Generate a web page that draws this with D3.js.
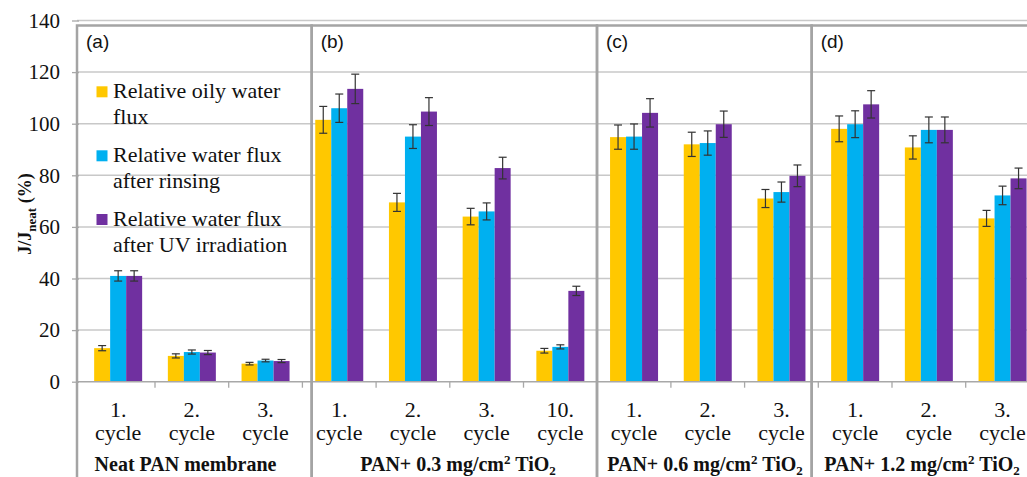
<!DOCTYPE html>
<html>
<head>
<meta charset="utf-8">
<script src="https://cdn.jsdelivr.net/npm/d3@7"></script>
<style>
  body { margin: 0; background: #fff; }
  svg { display: block; }
  text { font-family: "Liberation Serif", "Times New Roman", serif; fill: #111; }
</style>
</head>
<body>
<svg id="chart" width="1027" height="477"></svg>
<script>
// ----- data -----
var categories = ["a1", "a2", "a3", "b1", "b2", "b3", "b10", "c1", "c2", "c3", "d1", "d2", "d3"];
var cycleNum = ["1.", "2.", "3.", "1.", "2.", "3.", "10.", "1.", "2.", "3.", "1.", "2.", "3."];
var seriesNames = ["Relative oily water flux", "Relative water flux after rinsing", "Relative water flux after UV irradiation"];
var seriesColors = ["#ffc800", "#00b0f0", "#7030a0"];

var oilyFlux   = [13, 10, 7, 101.5, 69.5, 64, 12, 94.8, 92, 71, 98, 90.8, 63.3];
var rinseFlux  = [41, 11.5, 8.2, 106, 95, 66, 13.5, 95, 92.5, 73.5, 99.8, 97.6, 72.2];
var uvFlux     = [41, 11.3, 8, 113.5, 104.7, 82.8, 35.2, 104.2, 99.8, 79.8, 107.5, 97.6, 78.8];

var oilyErr    = [1, 0.8, 0.5, 5.2, 3.5, 3.2, 0.9, 4.7, 4.7, 3.5, 5, 4.5, 3.1];
var rinseErr   = [2, 0.8, 0.5, 5.5, 4.6, 3.3, 0.8, 4.9, 4.7, 3.9, 5.2, 5, 3.6];
var uvErr      = [2, 0.8, 0.6, 5.7, 5.4, 4.2, 1.8, 5.5, 5.1, 4.2, 5.3, 5, 4];

var yTicks = [0, 20, 40, 60, 80, 100, 120, 140];

var panelLetters = ["(a)", "(b)", "(c)", "(d)"];

var series = [oilyFlux, rinseFlux, uvFlux];
var errors = [oilyErr, rinseErr, uvErr];

// ----- layout -----
var svg = d3.select("#chart");
var x0 = 81.3, catW = 73.7;

var x = d3.scaleBand()
  .domain(categories)
  .range([x0, x0 + catW * categories.length])
  .paddingInner(0).paddingOuter(0);

var xs = d3.scaleBand()
  .domain([0, 1, 2])
  .range([0, 48]);

var groupOff = (x.bandwidth() - 48) / 2;

var y = d3.scaleLinear().domain([0, 140]).range([381.7, 20.5]);

// gridlines
svg.append("g").selectAll("line").data(yTicks.filter(function(d){ return d > 0; }))
  .enter().append("line")
  .attr("x1", 77).attr("x2", 1027)
  .attr("y1", function(d){ return y(d); }).attr("y2", function(d){ return y(d); })
  .attr("stroke", "#c8c8c8").attr("stroke-width", 1.5);

// y axis
var yAxis = d3.axisLeft(y).tickValues(yTicks).tickSize(7).tickPadding(12);
var ya = svg.append("g").attr("transform", "translate(79,0)").call(yAxis);
ya.attr("font-family", null).attr("font-size", null);
ya.select(".domain").remove();
ya.selectAll(".tick line").attr("stroke", "#a8a8a8").attr("stroke-width", 1.3);
ya.selectAll(".tick text")
  .style("font-family", "'Liberation Serif', 'Times New Roman', serif")
  .style("font-size", "21px").attr("fill", "#222");

// bars
var groups = svg.append("g").selectAll("g").data(categories).enter().append("g")
  .attr("transform", function(d){ return "translate(" + (x(d) + groupOff) + ",0)"; });

[0, 1, 2].forEach(function(s){
  groups.append("rect")
    .attr("x", xs(s))
    .attr("width", xs.bandwidth())
    .attr("y", function(d, i){ return y(series[s][i]); })
    .attr("height", function(d, i){ return y(0) - y(series[s][i]); })
    .attr("fill", seriesColors[s]);
});

// error bars
[0, 1, 2].forEach(function(s){
  var cx = xs(s) + xs.bandwidth() / 2;
  var eb = groups.append("g").attr("stroke", "#333").attr("stroke-width", 1.2);
  eb.append("line")
    .attr("x1", cx).attr("x2", cx)
    .attr("y1", function(d, i){ return y(series[s][i] + errors[s][i]); })
    .attr("y2", function(d, i){ return y(series[s][i] - errors[s][i]); });
  eb.append("line")
    .attr("x1", cx - 4).attr("x2", cx + 4)
    .attr("y1", function(d, i){ return y(series[s][i] + errors[s][i]); })
    .attr("y2", function(d, i){ return y(series[s][i] + errors[s][i]); });
  eb.append("line")
    .attr("x1", cx - 4).attr("x2", cx + 4)
    .attr("y1", function(d, i){ return y(series[s][i] - errors[s][i]); })
    .attr("y2", function(d, i){ return y(series[s][i] - errors[s][i]); });
});

// x axis baseline and ticks
svg.append("line")
  .attr("x1", 77).attr("x2", 1027).attr("y1", y(0)).attr("y2", y(0))
  .attr("stroke", "#a8a8a8").attr("stroke-width", 1.5);
svg.append("g").selectAll("line").data(categories.slice(1)).enter().append("line")
  .attr("x1", function(d){ return x(d); }).attr("x2", function(d){ return x(d); })
  .attr("y1", y(0)).attr("y2", y(0) + 6)
  .attr("stroke", "#a8a8a8").attr("stroke-width", 1.3);

// category labels
var cl = svg.append("g").selectAll("text").data(categories).enter().append("text")
  .attr("text-anchor", "middle")
  .style("font-size", "22px");
cl.append("tspan")
  .attr("x", function(d){ return x(d) + x.bandwidth() / 2; })
  .attr("y", 417)
  .text(function(d, i){ return cycleNum[i]; });
cl.append("tspan")
  .attr("x", function(d){ return x(d) + x.bandwidth() / 2; })
  .attr("y", 440)
  .text("cycle");

// panel boxes
var panelEdges = [77, 311.7, 597, 811.7, 1040];
svg.append("g").selectAll("rect").data(panelLetters).enter().append("rect")
  .attr("x", function(d, i){ return panelEdges[i]; })
  .attr("width", function(d, i){ return panelEdges[i + 1] - panelEdges[i]; })
  .attr("y", 25.5).attr("height", 470)
  .attr("fill", "none").attr("stroke", "#a4a4a4").attr("stroke-width", 2.5);

svg.append("g").selectAll("text").data(panelLetters).enter().append("text")
  .attr("x", function(d, i){ return panelEdges[i] + 9; })
  .attr("y", 48)
  .style("font-family", "'Liberation Sans', Arial, sans-serif")
  .style("font-size", "19px")
  .text(function(d){ return d; });

// group labels
var glCenters = [185.5, 458, 705, 922];
var gl = svg.append("g").selectAll("text").data([0, 1, 2, 3]).enter().append("text")
  .attr("x", function(d){ return glCenters[d]; })
  .attr("y", 471)
  .attr("text-anchor", "middle")
  .style("font-size", "20px").style("font-weight", "bold");
gl.each(function(d){
  var t = d3.select(this);
  if (d === 0) { t.text("Neat PAN membrane"); return; }
  var conc = ["", "0.3", "0.6", "1.2"][d];
  t.append("tspan").text("PAN+ " + conc + " mg/cm");
  t.append("tspan").attr("dy", -7).style("font-size", "13px").text("2");
  t.append("tspan").attr("dy", 7).text(" TiO");
  t.append("tspan").attr("dy", 4).style("font-size", "13px").text("2");
});

// legend
var legendLines = [["Relative oily water", "flux"], ["Relative water flux", "after rinsing"], ["Relative water flux", "after UV irradiation"]];
var legendBase = [98.3, 162.3, 226];
var lg = svg.append("g").selectAll("g").data(seriesNames).enter().append("g");
lg.append("rect")
  .attr("x", 96.5).attr("width", 11)
  .attr("y", function(d, i){ return legendBase[i] - 12; }).attr("height", 11)
  .attr("fill", function(d, i){ return seriesColors[i]; });
lg.append("text")
  .attr("x", 113).attr("y", function(d, i){ return legendBase[i]; })
  .style("font-size", "22px")
  .text(function(d, i){ return legendLines[i][0]; });
lg.append("text")
  .attr("x", 113).attr("y", function(d, i){ return legendBase[i] + 25.5; })
  .style("font-size", "22px")
  .text(function(d, i){ return legendLines[i][1]; });

// y axis title
var yt = svg.append("text")
  .attr("transform", "translate(31,214) rotate(-90)")
  .attr("text-anchor", "middle")
  .style("font-size", "18px").style("font-weight", "bold");
yt.append("tspan").text("J/J");
yt.append("tspan").attr("dy", 5).style("font-size", "13px").text("neat");
yt.append("tspan").attr("dy", -5).text(" (%)");
</script>
</body>
</html>
